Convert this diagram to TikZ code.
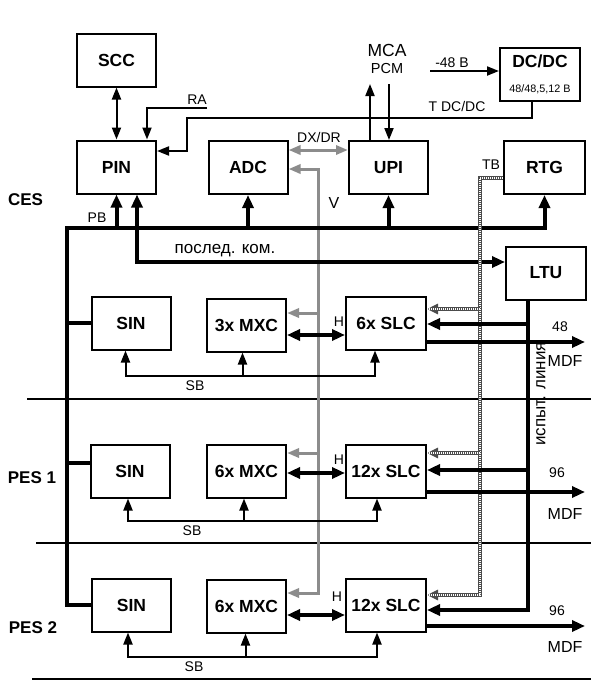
\documentclass[tikz,border=0pt]{standalone}
\usepackage{fontspec}
\setmainfont{Liberation Sans}
\usetikzlibrary{arrows.meta,positioning}
\tikzset{
  >={Triangle[length=12pt,width=9pt]},
  tipB/.tip={Triangle[length=13pt,width=11pt]},
  tipH/.tip={Triangle[length=11pt,width=10pt]},
  blk/.style={draw,line width=2pt,minimum width=79pt,minimum height=53pt,inner sep=0pt,
              font=\fontsize{17.5}{20}\selectfont\bfseries},
  lbl/.style={inner sep=0pt,font=\fontsize{14}{16}\selectfont},
  midlbl/.style={inner sep=0pt,font=\fontsize{16}{19}\selectfont},
  biglbl/.style={inner sep=0pt,font=\fontsize{17}{20}\selectfont\bfseries},
  sig/.style={line width=2pt},
  bus/.style={line width=4pt},
  busto/.style={bus,-tipB},
  bus2/.style={bus,tipB-tipB},
  vline/.style={line width=3pt,draw=black!45},
  hatch/.style={line width=4pt,draw=black!70,-tipH,
                postaction={draw=white,line width=1.6pt,dash pattern=on 0.8pt off 1.2pt,arrows=-}},
  sep/.style={line width=2pt},
}
\begin{document}
\begin{tikzpicture}[x=1pt,y=-1pt]
  \useasboundingbox (0,0) rectangle (591,689);
  % CES
  \node[blk] (SCC) at (116.5,60) {SCC};
  \node[blk] (PIN) at (116.5,167) {PIN};
  \node[blk] (ADC) at (248,167.5) {ADC};
  \node[blk] (UPI) at (388.5,167.5) {UPI};
  \node[blk,minimum width=81pt] (RTG) at (544.5,167.5) {RTG};
  \node[blk,minimum width=80pt,align=center] (DCDC) at (540,74.5)
    {DC/DC\\[5pt]{\fontsize{10.8}{12}\selectfont\mdseries 48/48,5,12 В}};
  \node[blk,minimum width=80pt] (LTU) at (546,273) {LTU};
  % PES rows
  \node[blk] (SINa) at (131,323) {SIN};
  \node[blk] (MXCa) at (246.5,325) {3x MXC};
  \node[blk,minimum width=80pt] (SLCa) at (386,323) {6x SLC};
  \node[blk] (SINb) at (130,471) {SIN};
  \node[blk] (MXCb) at (246.5,471) {6x MXC};
  \node[blk,minimum width=80pt] (SLCb) at (386,471) {12x SLC};
  \node[blk] (SINc) at (131.5,605) {SIN};
  \node[blk] (MXCc) at (246.5,606) {6x MXC};
  \node[blk,minimum width=80pt] (SLCc) at (386,605) {12x SLC};

  \node[biglbl] (ces) at (25.5,200) {CES};
  \node[biglbl] (pes1) at (32,478) {PES 1};
  \node[biglbl] (pes2) at (33,628) {PES 2};

  \draw[sep] (27,399) -- (591,399);
  \draw[sep] (36,543) -- (591,543);
  \draw[sep,line width=2.5pt] (32,679) -- (591,679);

  % control lines
  \draw[sig,<->] (SCC) -- (PIN);
  \coordinate (ra) at (207,108);
  \draw[sig,->] (ra) -| ([xshift=30.5pt]PIN.north);
  \node[lbl] (ralbl) at (197,100) {RA};
  \coordinate (tdc) at (187,118);
  \draw[sig,->] ([xshift=-8pt]DCDC.south) |- (tdc) |- ([yshift=16pt]PIN.east);
  \node[lbl] (tdclbl) at (457,106) {T DC/DC};
  \node[inner sep=0pt,font=\fontsize{17.5}{20}\selectfont] (mca) at (387,50) {MCA};
  \node[inner sep=0pt,font=\fontsize{14.5}{17}\selectfont] (pcm) at (387,69) {PCM};
  \coordinate (pcmb) at (0,84);
  \draw[sig,->] ([xshift=-18.5pt]UPI.north) -- ([xshift=-18.5pt]UPI.north |- pcmb);
  \draw[sig,<-] ([xshift=0.5pt]UPI.north) -- ([xshift=0.5pt]UPI.north |- pcmb);
  \coordinate (m48) at (430,71);
  \draw[sig,->] (m48) -- (m48 -| DCDC.west);
  \node[lbl] (m48lbl) at (452,63) {-48 В};

  % V / DX/DR
  \draw[vline,<->] ([yshift=17.5pt]ADC.east) -- ([yshift=17.5pt]UPI.west);
  \node[lbl] (dxdr) at (319,137) {DX/DR};
  \coordinate (vtop) at (318,169);
  \draw[vline,<->] ([yshift=-1.5pt]ADC.east) -- (vtop) |- ([yshift=13pt]MXCc.east);
  \draw[vline,->] ([yshift=12pt]MXCa.east -| vtop) -- ([yshift=12pt]MXCa.east);
  \draw[vline,->] ([yshift=18pt]MXCb.east -| vtop) -- ([yshift=18pt]MXCb.east);
  \node[midlbl] (vlbl) at (334,203) {V};

  % PB bus
  \coordinate (pbl) at (67,228);
  \coordinate (pbr) at (544.5,228);
  \draw[busto] (SINc.west) -| (pbl) -- (pbr) -- (RTG.south);
  \draw[bus] (SINa.west -| pbl) -- (SINa.west);
  \draw[bus] ([yshift=8pt]SINb.west -| pbl) -- ([yshift=8pt]SINb.west);
  \draw[busto] (PIN.south |- pbl) -- (PIN.south);
  \draw[busto] (ADC.south |- pbl) -- (ADC.south);
  \draw[busto] (UPI.south |- pbl) -- (UPI.south);
  \node[lbl] (pblbl) at (97,218) {PB};

  \draw[bus2] ([xshift=20.5pt]PIN.south) |- ([yshift=11pt]LTU.west);
  \node[inner sep=0pt,font=\fontsize{17}{20}\selectfont] (pklbl) at (225,251) {послед. ком.};

  % TB
  \coordinate (tbx) at (480,178);
  \draw[hatch] ([yshift=-10.5pt]RTG.west) -- (tbx) |- ([yshift=10pt]SLCc.east);
  \draw[hatch] ([yshift=14pt]SLCa.east -| tbx) -- ([yshift=14pt]SLCa.east);
  \draw[hatch] ([yshift=18pt]SLCb.east -| tbx) -- ([yshift=18pt]SLCb.east);
  \node[lbl] (tblbl) at (491,165) {TB};

  % test line from LTU
  \coordinate (lt) at ([xshift=-18pt]LTU.south);
  \draw[busto] (lt) |- ([yshift=-5pt]SLCc.east);
  \draw[busto] ([yshift=-1pt]SLCa.east -| lt) -- ([yshift=-1pt]SLCa.east);
  \draw[busto] ([yshift=1pt]SLCb.east -| lt) -- ([yshift=1pt]SLCb.east);
  \node[inner sep=0pt,rotate=90,font=\fontsize{17}{20}\selectfont] (ispyt) at (541,394) {испыт. линия};

  % H
  \draw[bus2] ([yshift=-10pt]MXCa.east) -- ([yshift=-10pt]MXCa.east -| SLCa.west);
  \draw[bus2] ([yshift=-2pt]MXCb.east) -- ([yshift=-2pt]MXCb.east -| SLCb.west);
  \draw[bus2] ([yshift=-9pt]MXCc.east) -- ([yshift=-9pt]MXCc.east -| SLCc.west);
  \node[lbl] (ha) at (339,322) {H};
  \node[lbl] (hb) at (339,460) {H};
  \node[lbl] (hc) at (337,597) {H};

  % MDF outputs
  \coordinate (mdf) at (585,0);
  \draw[busto] ([yshift=-19pt]SLCa.east) -- ([yshift=-19pt]SLCa.east -| mdf);
  \draw[busto] ([yshift=-21pt]SLCb.east) -- ([yshift=-21pt]SLCb.east -| mdf);
  \draw[busto] ([yshift=-21pt]SLCc.east) -- ([yshift=-21pt]SLCc.east -| mdf);
  \node[lbl] (na) at (560,327) {48};
  \node[midlbl] (mdfa) at (565,361) {MDF};
  \node[lbl] (nb) at (557,473) {96};
  \node[midlbl] (mdfb) at (565,514) {MDF};
  \node[lbl] (nc) at (557,611) {96};
  \node[midlbl] (mdfc) at (565,647) {MDF};

  % SB
  \coordinate (sba) at (195,376);
  \coordinate (sbb) at (192,521);
  \coordinate (sbc) at (194,657);
  \draw[sig,<->] ([xshift=-5.5pt]SINa.south) |- (sba) -| ([xshift=-11pt]SLCa.south);
  \draw[sig,->] ([xshift=-4pt]MXCa.south |- sba) -- ([xshift=-4pt]MXCa.south);
  \draw[sig,<->] ([xshift=-2pt]SINb.south) |- (sbb) -| ([xshift=-9pt]SLCb.south);
  \draw[sig,->] ([xshift=-2.5pt]MXCb.south |- sbb) -- ([xshift=-2.5pt]MXCb.south);
  \draw[sig,<->] ([xshift=-3.5pt]SINc.south) |- (sbc) -| ([xshift=-9pt]SLCc.south);
  \draw[sig,->] ([xshift=-1pt]MXCc.south |- sbc) -- ([xshift=-1pt]MXCc.south);
  \node[lbl,below=5pt of sba] (sbla) {SB};
  \node[lbl,below=5pt of sbb] (sblb) {SB};
  \node[lbl,below=5pt of sbc] (sblc) {SB};
\end{tikzpicture}
\end{document}
